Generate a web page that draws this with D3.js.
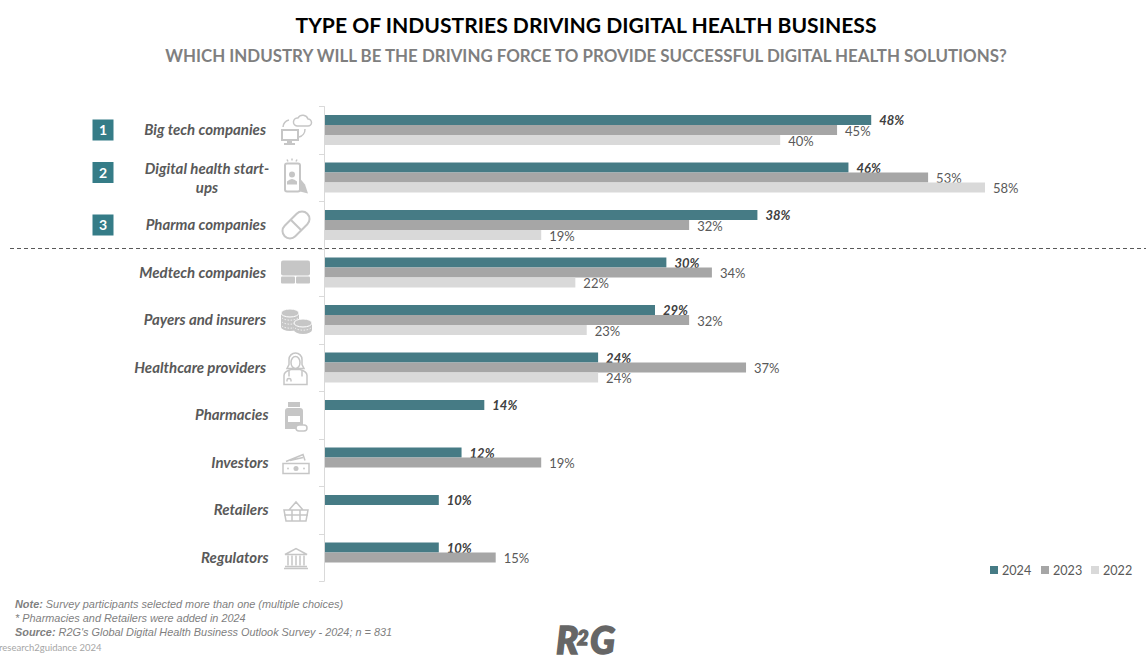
<!DOCTYPE html>
<html>
<head>
<meta charset="utf-8">
<script src="https://cdn.jsdelivr.net/npm/d3@7/dist/d3.min.js"></script>
<style>
  html, body { margin: 0; padding: 0; background: #fff; overflow: hidden; }
  svg { display: block; }
  text { font-family: Lato, "Open Sans", sans-serif; }
  .foot { font-family: "Liberation Sans", Arial, sans-serif; font-size: 10.9px; font-style: italic; fill: #7f7f7f; }
</style>
</head>
<body>
<svg id="chart" width="1146" height="655"></svg>
<script>
// Survey results per industry, in percent; null means not asked that year.
const industries = ["Big tech companies", "Digital health start-ups", "Pharma companies", "Medtech companies",
  "Payers and insurers", "Healthcare providers", "Pharmacies", "Investors", "Retailers", "Regulators"];
const years = ["2024", "2023", "2022"];
const values2024 = [48, 46, 38, 30, 29, 24, 14, 12, 10, 10];
const values2023 = [45, 53, 32, 34, 32, 37, null, 19, null, 15];
const values2022 = [40, 58, 19, 22, 23, 24, null, null, null, null];
const seriesByYear = { "2024": values2024, "2023": values2023, "2022": values2022 };
const yearColors = ["#467b85", "#a6a6a6", "#d9d9d9"];
const topRanked = 3;

const svg = d3.select("#chart");
const ICON = "#c6c6c6";

const x = d3.scaleLinear().domain([0, 58]).range([325, 985]);
const y = d3.scaleBand().domain(industries).range([106.25, 581.25]);
const yInner = d3.scaleBand().domain(years).range([0, y.bandwidth()]).paddingInner(0).paddingOuter(0.875);
const color = d3.scaleOrdinal().domain(years).range(yearColors);
const mid = d => y(d) + y.bandwidth() / 2;

// Headings
svg.append("text").attr("x", 586).attr("y", 33).attr("text-anchor", "middle")
  .attr("font-size", 21.1).attr("font-weight", 700).attr("fill", "#000")
  .text("TYPE OF INDUSTRIES DRIVING DIGITAL HEALTH BUSINESS");
svg.append("text").attr("x", 586).attr("y", 62).attr("text-anchor", "middle")
  .attr("font-size", 16.9).attr("font-weight", 700).attr("fill", "#7f7f7f")
  .text("WHICH INDUSTRY WILL BE THE DRIVING FORCE TO PROVIDE SUCCESSFUL DIGITAL HEALTH SOLUTIONS?");

// Category axis with ticks between the rows
const axis = svg.append("g").attr("stroke", "#d9d9d9").attr("stroke-width", 1);
axis.append("line").attr("x1", 324.5).attr("x2", 324.5).attr("y1", y.range()[0]).attr("y2", y.range()[1]);
axis.selectAll("line.tick").data(industries.concat(["end"])).join("line").attr("class", "tick")
  .attr("x1", 319).attr("x2", 324.5)
  .attr("y1", (d, i) => Math.round(y.range()[0] + i * y.step()) + 0.5)
  .attr("y2", (d, i) => Math.round(y.range()[0] + i * y.step()) + 0.5);

// Bars and their value labels, one group per row
const rows = svg.append("g").selectAll("g").data(industries).join("g")
  .attr("transform", d => `translate(0,${y(d)})`);
years.forEach(year => {
  const current = year === "2024";
  const visible = (d, i) => seriesByYear[year][i] != null;
  const val = d => seriesByYear[year][industries.indexOf(d)];
  const cells = rows.filter(visible);
  cells.append("rect")
    .attr("x", x(0)).attr("y", yInner(year))
    .attr("width", d => x(val(d)) - x(0)).attr("height", yInner.bandwidth())
    .attr("fill", color(year));
  cells.append("text")
    .attr("x", d => x(val(d)) + 8)
    .attr("y", yInner(year) + yInner.bandwidth() / 2 + (current ? 5 : 5.7))
    .attr("font-size", 13)
    .attr("font-weight", current ? 700 : 400)
    .attr("font-style", current ? "italic" : "normal")
    .attr("fill", current ? "#404040" : "#595959")
    .text(d => val(d) + "%");
});

// Industry names
const names = svg.append("g").attr("font-size", 15).attr("font-weight", 700)
  .attr("font-style", "italic").attr("fill", "#595959");
industries.forEach((name, i) => {
  if (name === "Digital health start-ups") {
    names.append("text").attr("x", 207).attr("y", mid(name) - 4).attr("text-anchor", "middle").text("Digital health start-");
    names.append("text").attr("x", 207).attr("y", mid(name) + 15).attr("text-anchor", "middle").text("ups");
  } else {
    names.append("text").attr("x", i >= 6 ? 268.5 : 266).attr("y", mid(name) + 5).attr("text-anchor", "end").text(name);
  }
});

// Rank badges for the leading industries
const badges = svg.append("g").selectAll("g").data(industries.slice(0, topRanked)).join("g")
  .attr("transform", (d, i) => `translate(103,${mid(d) - (i === 1 ? 5 : 0)})`);
badges.append("rect").attr("x", -10.5).attr("y", -10.5).attr("width", 21).attr("height", 21).attr("fill", "#357c87");
badges.append("text").attr("y", 5).attr("text-anchor", "middle").attr("font-size", 14)
  .attr("font-weight", 700).attr("fill", "#fff").text((d, i) => i + 1);

// Divider below the leading group
svg.append("line").attr("x1", 10).attr("x2", 1146).attr("y1", 248.5).attr("y2", 248.5)
  .attr("stroke", "#595959").attr("stroke-dasharray", "4 3");

// Pictograms, drawn around each row's centre
const iconDrawers = [
  g => { // cloud and monitor
    line(g, "M1,-4 H12 A3.5,3.5 0 0 0 12,-11 A5.5,5.5 0 0 0 2,-12 A4,4 0 0 0 1,-4 Z");
    g.append("rect").attr("x", -14).attr("y", 0).attr("width", 16).attr("height", 10).attr("fill", "none").attr("stroke", ICON).attr("stroke-width", 2);
    fill(g, "M-9,10 H-4 V13 H-1 V15 H-12 V13 H-9 Z");
    line(g, "M-13,-3 A8,8 0 0 1 -7,-10");
    line(g, "M9,-1 A8,8 0 0 1 3,7");
  },
  g => { // phone in a hand
    g.attr("transform", g.attr("transform") + " translate(0,-3)");
    g.append("rect").attr("x", -11).attr("y", -11).attr("width", 15).attr("height", 28).attr("rx", 2).attr("fill", "none").attr("stroke", ICON).attr("stroke-width", 2);
    g.append("circle").attr("cx", -4).attr("cy", 0).attr("r", 3).attr("fill", ICON);
    fill(g, "M-9,10 V7 Q-4,2 1,7 V10 Z");
    fill(g, "M4,4 L9,10 L12,19 L4,17 Z");
    line(g, "M-4,-16 V-14 M-9,-15 L-8,-13 M1,-15 L0,-13");
  },
  g => { // capsule
    g.append("g").attr("transform", "rotate(-45)").call(c => {
      c.append("rect").attr("x", -16).attr("y", -7.5).attr("width", 32).attr("height", 15).attr("rx", 7.5).attr("fill", "none").attr("stroke", ICON).attr("stroke-width", 2);
      c.append("line").attr("x1", 0).attr("x2", 0).attr("y1", -7.5).attr("y2", 7.5).attr("stroke", ICON).attr("stroke-width", 2);
    });
  },
  g => { // device panels
    g.append("rect").attr("x", -15).attr("y", -12).attr("width", 29).attr("height", 15).attr("rx", 2).attr("fill", ICON);
    g.append("rect").attr("x", -15).attr("y", 4).attr("width", 14).attr("height", 7).attr("rx", 1).attr("fill", ICON);
    g.append("rect").attr("x", 0).attr("y", 4).attr("width", 14).attr("height", 7).attr("rx", 1).attr("fill", ICON);
  },
  g => { // coin stacks
    const stack = (cx, top, bottom) => {
      fill(g, `M${cx - 9},${top} V${bottom} A9,4 0 0 0 ${cx + 9},${bottom} V${top} Z`);
      g.append("ellipse").attr("cx", cx).attr("cy", top).attr("rx", 9).attr("ry", 4).attr("fill", ICON).attr("stroke", "#fff").attr("stroke-width", 1);
      for (let b = top + 5; b < bottom + 2; b += 4) {
        g.append("path").attr("d", `M${cx - 8},${b} A9,4 0 0 0 ${cx + 8},${b}`).attr("fill", "none")
          .attr("stroke", "#fff").attr("stroke-width", 0.8).attr("stroke-dasharray", "1.5 1.5");
      }
    };
    stack(-6, -7, 7);
    stack(7, 3, 10);
  },
  g => { // doctor
    line(g, "M-7,-3 V-8 A6.5,6.5 0 0 1 6,-8 V-3 L8,1 H-9 Z");
    g.append("ellipse").attr("cx", -0.5).attr("cy", -5).attr("rx", 4.5).attr("ry", 6).attr("fill", "#fff").attr("stroke", ICON).attr("stroke-width", 1.5);
    line(g, "M-12,17 V8 Q-12,4 -5,2 H4 Q11,4 11,8 V17 Z");
    line(g, "M-7,3 V9 M6,3 V9 M-9,12 A2.5,2.5 0 0 1 -5,12 M-9,12 V14 M-5,12 V14");
  },
  g => { // medicine bottle and pill
    fill(g, "M-8,-13 H4 V-8 H-8 Z");
    fill(g, "M-11,-4 Q-11,-7 -8,-7 H4 Q7,-7 7,-4 V14 H-11 Z");
    g.append("rect").attr("x", -8).attr("y", 1).attr("width", 12).attr("height", 6).attr("fill", "#fff");
    g.append("rect").attr("x", 0).attr("y", 10).attr("width", 11).attr("height", 6).attr("rx", 3).attr("fill", "#fff").attr("stroke", ICON).attr("stroke-width", 1.5);
  },
  g => { // banknotes
    g.append("rect").attr("x", -13).attr("y", 1).attr("width", 26).attr("height", 10).attr("fill", "none").attr("stroke", ICON).attr("stroke-width", 1.5);
    line(g, "M-10,-1 L7,-8 L9,-2 M-6,-2 L7,-5");
    g.append("circle").attr("cx", 0).attr("cy", 6).attr("r", 2.5).attr("fill", ICON);
    g.append("circle").attr("cx", -8).attr("cy", 6).attr("r", 0.9).attr("fill", ICON);
    g.append("circle").attr("cx", 8).attr("cy", 6).attr("r", 0.9).attr("fill", ICON);
  },
  g => { // shopping basket
    line(g, "M-12,0 H12 L10,11 H-10 Z M-7,0 L0,-8 L7,0 M-12,5 H12 M-4,0 V11 M4,0 V11");
  },
  g => { // institution building
    line(g, "M-11,-3 L0,-9 L11,-3 Z M-11,9 H11 M-12,11 H12");
    line(g, "M-8,-2 V8 M-4,-2 V8 M0,-2 V8 M4,-2 V8 M8,-2 V8");
  }
];
function line(g, d) { g.append("path").attr("d", d).attr("fill", "none").attr("stroke", ICON).attr("stroke-width", 1.5); }
function fill(g, d) { g.append("path").attr("d", d).attr("fill", ICON); }
const iconLayer = svg.append("g");
industries.forEach((name, i) => {
  iconDrawers[i](iconLayer.append("g").attr("transform", `translate(296,${mid(name)})`));
});

// Legend
const legendX = [990, 1041, 1091];
const legend = svg.append("g").selectAll("g").data(years).join("g")
  .attr("transform", (d, i) => `translate(${legendX[i]},570)`);
legend.append("rect").attr("y", -4).attr("width", 8).attr("height", 8).attr("fill", d => color(d));
legend.append("text").attr("x", 12).attr("y", 5).attr("font-size", 12.6).attr("fill", "#595959").text(d => d);

// Footnotes
const note = svg.append("text").attr("class", "foot").attr("x", 15).attr("y", 608);
note.append("tspan").attr("font-weight", 700).text("Note:");
note.append("tspan").text(" Survey participants selected more than one (multiple choices)");
svg.append("text").attr("class", "foot").attr("x", 15).attr("y", 622).text("* Pharmacies and Retailers were added in 2024");
const source = svg.append("text").attr("class", "foot").attr("x", 15).attr("y", 636);
source.append("tspan").attr("font-weight", 700).text("Source:");
source.append("tspan").text("  R2G's Global Digital Health Business Outlook Survey - 2024; n = 831");
svg.append("text").attr("x", -1).attr("y", 651).attr("font-size", 9.5).attr("fill", "#a6a6a6").text("research2guidance 2024");

// Brand mark
const logoStyle = s => s.attr("font-weight", 900).attr("font-style", "italic").attr("fill", "#666")
  .attr("stroke", "#666").attr("stroke-width", 1.4);
svg.append("text").attr("x", 556).attr("y", 654).attr("font-size", 37).call(logoStyle).text("R");
svg.append("text").attr("x", 577).attr("y", 645).attr("font-size", 20).call(logoStyle).text("2");
svg.append("text").attr("x", 590).attr("y", 654).attr("font-size", 37).call(logoStyle).text("G");
</script>
</body>
</html>
